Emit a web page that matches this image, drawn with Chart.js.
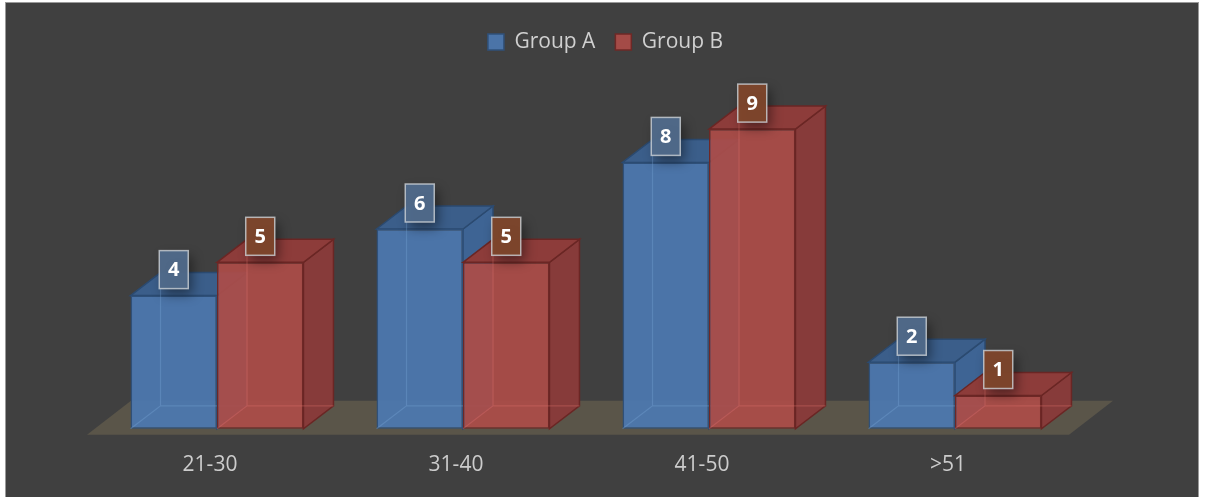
<!DOCTYPE html>
<html>
<head>
<meta charset="utf-8">
<script src="https://cdn.jsdelivr.net/npm/chart.js@4/dist/chart.umd.min.js"></script>
<style>
    html, body { margin: 0; padding: 0; background: #fff; overflow: hidden; }
    #wrap { position: absolute; left: 0; top: 0; width: 1205px; height: 497px; }
</style>
</head>
<body>
<div id="wrap"><canvas id="myChart"></canvas></div>
<script>
const categories = ['21-30', '31-40', '41-50', '>51'];
const seriesNames = ['Group A', 'Group B'];
const groupA = [4, 6, 8, 2];
const groupB = [5, 5, 9, 1];

const depthX = 30, depthY = 23;
const faces = [
    { top: '#3b5e8a', side: '#3e6494', edge: '#2b4a70', inner: 'rgba(120,165,215,0.35)', tag: 'rgba(80,106,138,0.96)' },
    { top: '#8d3c3a', side: '#873b3a', edge: '#6a2624', inner: 'rgba(225,115,110,0.35)', tag: 'rgba(126,70,44,0.96)' }
];

function poly(ctx, pts, fill, stroke) {
    ctx.beginPath();
    ctx.moveTo(pts[0][0], pts[0][1]);
    for (let i = 1; i < pts.length; i++) ctx.lineTo(pts[i][0], pts[i][1]);
    ctx.closePath();
    ctx.fillStyle = fill;
    ctx.fill();
    ctx.lineWidth = 1.5;
    ctx.strokeStyle = stroke;
    ctx.stroke();
}

const cubePlugin = {
    id: 'cube',
    beforeDraw(chart) {
        const ctx = chart.ctx;
        ctx.save();
        ctx.fillStyle = '#ffffff';
        ctx.fillRect(0, 0, chart.width, chart.height);
        ctx.fillStyle = '#404040';
        ctx.fillRect(6, 3, 1192, 500);
        ctx.strokeStyle = '#9a9a9a';
        ctx.lineWidth = 1;
        ctx.strokeRect(5.5, 2.5, 1193, 501);
        ctx.restore();
    },
    beforeDatasetsDraw(chart) {
        const ctx = chart.ctx;
        const area = chart.chartArea;
        const y0 = chart.scales.y.getPixelForValue(0);
        const front = y0 + 6, back = y0 - 28;
        ctx.save();
        ctx.beginPath();
        ctx.moveTo(area.left - 7, front);
        ctx.lineTo(area.left + 37, back);
        ctx.lineTo(area.right + 35, back);
        ctx.lineTo(area.right - 9, front);
        ctx.closePath();
        ctx.fillStyle = '#5a5549';
        ctx.fill();
        ctx.restore();
    },
    // bars are drawn below in series order so Group B's front covers Group A's side
    beforeDatasetDraw() {
        return false;
    },
    afterDatasetsDraw(chart) {
        const ctx = chart.ctx;
        ctx.save();
        chart.data.datasets.forEach((ds, di) => {
            const f = faces[di];
            chart.getDatasetMeta(di).data.forEach(bar => {
                const { x, y, base, width } = bar.getProps(['x', 'y', 'base', 'width'], true);
                const L = x - width / 2, R = x + width / 2;
                poly(ctx, [[R, y], [R + depthX, y - depthY], [R + depthX, base - depthY], [R, base]], f.side, f.edge);
                poly(ctx, [[L, y], [L + depthX, y - depthY], [R + depthX, y - depthY], [R, y]], f.top, f.edge);
                bar.draw(ctx);
                ctx.beginPath();
                ctx.moveTo(L, base);
                ctx.lineTo(L + depthX, base - depthY);
                ctx.lineTo(R + depthX, base - depthY);
                ctx.moveTo(L + depthX, base - depthY);
                ctx.lineTo(L + depthX, y - depthY);
                ctx.strokeStyle = f.inner;
                ctx.lineWidth = 1.2;
                ctx.stroke();
            });
        });

        chart.data.datasets.forEach((ds, di) => {
            chart.getDatasetMeta(di).data.forEach((bar, i) => {
                const { x, y } = bar.getProps(['x', 'y'], true);
                const w = 29, h = 38;
                const bx = x - w / 2, by = y - 7 - h;
                ctx.save();
                ctx.shadowColor = 'rgba(0,0,0,0.45)';
                ctx.shadowBlur = 12;
                ctx.shadowOffsetX = 4;
                ctx.shadowOffsetY = 6;
                ctx.fillStyle = faces[di].tag;
                ctx.fillRect(bx, by, w, h);
                ctx.restore();
                ctx.strokeStyle = 'rgba(205,210,215,0.8)';
                ctx.lineWidth = 1.5;
                ctx.strokeRect(bx, by, w, h);
                ctx.fillStyle = '#ffffff';
                ctx.font = 'bold 20px "Open Sans"';
                ctx.textAlign = 'center';
                ctx.textBaseline = 'middle';
                ctx.fillText(String(ds.data[i]), x, by + h / 2 + 1);
            });
        });
        ctx.restore();
    }
};

const ctx = document.getElementById('myChart').getContext('2d');
const myChart = new Chart(ctx, {
    type: 'bar',
    data: {
        labels: categories,
        datasets: [{
            label: seriesNames[0],
            data: groupA,
            backgroundColor: 'rgba(76,121,176,0.93)',
            borderColor: '#2f5079',
            borderWidth: 1.5,
            borderSkipped: false,
            categoryPercentage: 0.703,
            barPercentage: 1
        }, {
            label: seriesNames[1],
            data: groupB,
            backgroundColor: 'rgba(172,76,72,0.93)',
            borderColor: '#6e2826',
            borderWidth: 1.5,
            borderSkipped: false,
            categoryPercentage: 0.703,
            barPercentage: 1
        }]
    },
    options: {
        responsive: true,
        maintainAspectRatio: false,
        animation: false,
        layout: { padding: { left: 12, right: 6, top: 11.5, bottom: -5 } },
        plugins: {
            legend: {
                labels: {
                    boxWidth: 16,
                    boxHeight: 16,
                    padding: 20,
                    color: '#d0d0d0',
                    font: { family: 'Open Sans', size: 21 }
                }
            },
            tooltip: { enabled: false }
        },
        scales: {
            x: {
                grid: { display: false, drawTicks: false },
                border: { display: false },
                ticks: {
                    color: '#cccccc',
                    padding: 22,
                    labelOffset: -7,
                    font: { family: 'Open Sans', size: 21, lineHeight: 1.39 }
                }
            },
            y: {
                min: 0,
                max: 11,
                grid: { display: false, drawTicks: false },
                border: { display: false },
                ticks: { display: false },
                afterFit(scale) { scale.width = 82; }
            },
            yRight: {
                position: 'right',
                grid: { display: false, drawTicks: false },
                border: { display: false },
                ticks: { display: false },
                afterFit(scale) { scale.width = 121; }
            }
        }
    },
    plugins: [cubePlugin]
});
</script>
</body>
</html>
